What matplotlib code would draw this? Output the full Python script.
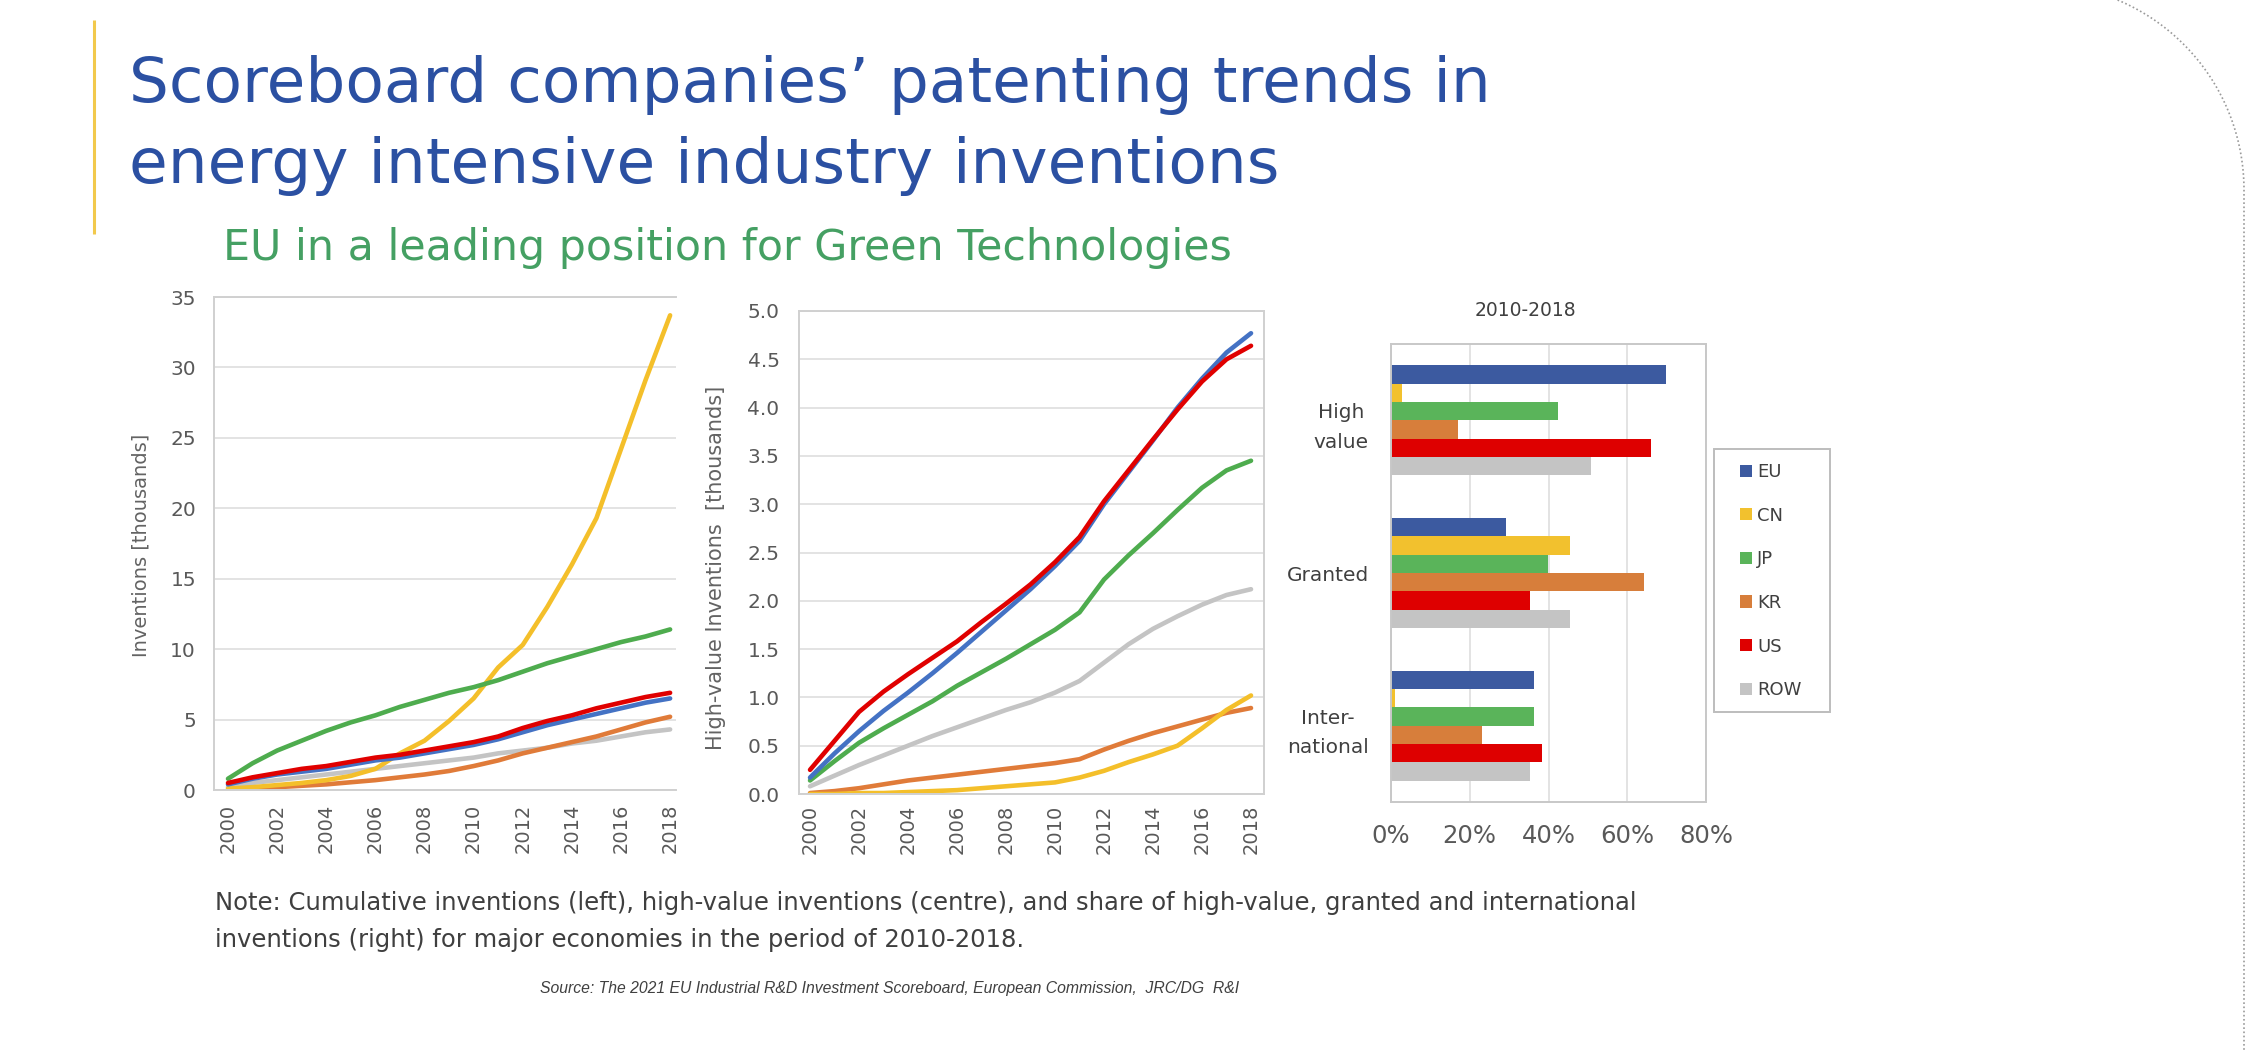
import matplotlib
matplotlib.use("Agg")
import matplotlib.pyplot as plt
import numpy as np
from matplotlib.patches import Patch, Rectangle
from matplotlib.ticker import FuncFormatter

# ---------------- data ----------------
years = list(range(2000, 2019))
series = ["EU", "CN", "JP", "KR", "US", "ROW"]

# Cumulative inventions (thousands) - left panel
cum_EU = [0.4, 0.8, 1.1, 1.3, 1.5, 1.8, 2.1, 2.3, 2.6, 2.9, 3.2, 3.6, 4.1, 4.6, 5.0, 5.4, 5.8, 6.2, 6.5]
cum_CN = [0.1, 0.2, 0.35, 0.5, 0.7, 1.0, 1.5, 2.6, 3.5, 4.9, 6.5, 8.7, 10.3, 13.0, 16.0, 19.3, 24.2, 29.1, 33.7]
cum_JP = [0.8, 1.9, 2.8, 3.5, 4.2, 4.8, 5.3, 5.9, 6.4, 6.9, 7.3, 7.8, 8.4, 9.0, 9.5, 10.0, 10.5, 10.9, 11.4]
cum_KR = [0.0, 0.1, 0.2, 0.3, 0.4, 0.55, 0.7, 0.9, 1.1, 1.35, 1.7, 2.1, 2.6, 3.0, 3.4, 3.8, 4.3, 4.8, 5.2]
cum_US = [0.5, 0.9, 1.2, 1.5, 1.7, 2.0, 2.3, 2.5, 2.8, 3.1, 3.4, 3.8, 4.4, 4.9, 5.3, 5.8, 6.2, 6.6, 6.9]
cum_ROW = [0.2, 0.5, 0.7, 0.9, 1.1, 1.3, 1.5, 1.7, 1.9, 2.1, 2.3, 2.6, 2.8, 3.0, 3.3, 3.5, 3.8, 4.1, 4.3]

# High-value inventions (thousands) - centre panel
hv_EU = [0.17, 0.42, 0.65, 0.86, 1.05, 1.25, 1.46, 1.68, 1.90, 2.12, 2.36, 2.62, 3.00, 3.33, 3.66, 4.00, 4.30, 4.57, 4.77]
hv_CN = [0.0, 0.0, 0.01, 0.01, 0.02, 0.03, 0.04, 0.06, 0.08, 0.10, 0.12, 0.17, 0.24, 0.33, 0.41, 0.50, 0.68, 0.87, 1.02]
hv_JP = [0.14, 0.34, 0.53, 0.68, 0.82, 0.96, 1.12, 1.26, 1.40, 1.55, 1.70, 1.88, 2.22, 2.47, 2.70, 2.94, 3.17, 3.35, 3.45]
hv_KR = [0.01, 0.03, 0.06, 0.10, 0.14, 0.17, 0.20, 0.23, 0.26, 0.29, 0.32, 0.36, 0.46, 0.55, 0.63, 0.70, 0.77, 0.84, 0.89]
hv_US = [0.25, 0.55, 0.85, 1.06, 1.24, 1.41, 1.58, 1.78, 1.97, 2.17, 2.40, 2.66, 3.03, 3.35, 3.67, 3.98, 4.27, 4.50, 4.64]
hv_ROW = [0.08, 0.19, 0.30, 0.40, 0.50, 0.60, 0.69, 0.78, 0.87, 0.95, 1.05, 1.17, 1.36, 1.55, 1.71, 1.84, 1.96, 2.06, 2.12]

# Shares 2010-2018 (%) - right panel
share_categories = ["High\nvalue", "Granted", "Inter-\nnational"]
share_EU = [69.9, 29.2, 36.3]
share_CN = [2.9, 45.4, 1.0]
share_JP = [42.5, 39.8, 36.3]
share_KR = [17.0, 64.3, 23.0]
share_US = [66.0, 35.3, 38.3]
share_ROW = [50.8, 45.4, 35.3]

year_ticks = list(range(2000, 2019, 2))
left_yticks = [0, 5, 10, 15, 20, 25, 30, 35]
mid_yticks = [0.0, 0.5, 1.0, 1.5, 2.0, 2.5, 3.0, 3.5, 4.0, 4.5, 5.0]
share_xticks = [0, 20, 40, 60, 80]

cum = dict(EU=cum_EU, CN=cum_CN, JP=cum_JP, KR=cum_KR, US=cum_US, ROW=cum_ROW)
hv = dict(EU=hv_EU, CN=hv_CN, JP=hv_JP, KR=hv_KR, US=hv_US, ROW=hv_ROW)
share = dict(EU=share_EU, CN=share_CN, JP=share_JP, KR=share_KR, US=share_US, ROW=share_ROW)

# ---------------- styles ----------------
line_colors = {"EU": "#4472c4", "CN": "#f4bf2a", "JP": "#4eac4e",
               "KR": "#e07b39", "US": "#e00000", "ROW": "#c4c4c4"}
bar_colors = {"EU": "#3c5aa0", "CN": "#f2c12e", "JP": "#5ab45a",
              "KR": "#d77e3b", "US": "#de0000", "ROW": "#c4c4c4"}
draw_order = ["ROW", "KR", "CN", "JP", "EU", "US"]

W, H = 2246, 1050
CHART_FONT = "DejaVu Sans"
SLIDE_FONT = "DejaVu Sans"
TICK_COLOR = "#595959"
SPINE = "#d0d0d0"
GRID = "#e3e3e3"

fig = plt.figure(figsize=(W / 100, H / 100), dpi=100)
fig.patch.set_facecolor("white")


def px_axes(x0, y0, x1, y1):
    return fig.add_axes([x0 / W, 1 - y1 / H, (x1 - x0) / W, (y1 - y0) / H])


def ftext(x, y, s, **kw):
    return fig.text(x / W, 1 - y / H, s, **kw)


# ---------------- slide decoration ----------------
over = fig.add_axes([0, 0, 1, 1], zorder=-5)
over.set_xlim(0, W)
over.set_ylim(H, 0)
over.axis("off")
# yellow accent bar
over.plot([94, 94], [20, 234], color="#f2c94c", lw=2.2, solid_capstyle="butt")
# dotted rounded frame on the right
cx, cy, r = 2038, 190, 206
th = np.linspace(np.arcsin((0 - cy) / r), 0, 80)
fx = list(cx + r * np.cos(th)) + [cx + r, cx + r]
fy = list(cy + r * np.sin(th)) + [cy, H]
over.plot(fx, fy, color="#9a9a9a", lw=1.2, ls=(0, (1, 1.5)))

# ---------------- titles ----------------
title_color = "#2b50a2"
ftext(129, 102, "Scoreboard companies\u2019 patenting trends in", fontsize=45.3,
      color=title_color, family=SLIDE_FONT, va="baseline", ha="left")
ftext(129, 183, "energy intensive industry inventions", fontsize=45.3,
      color=title_color, family=SLIDE_FONT, va="baseline", ha="left")
ftext(223, 260, "EU in a leading position for Green Technologies", fontsize=30.8,
      color="#45a063", family=SLIDE_FONT, va="baseline", ha="left")


def style_line_axes(ax, pad_y, pad_x, ysize, xsize):
    ax.set_axisbelow(True)
    ax.yaxis.grid(True, color=GRID, lw=1.4)
    ax.xaxis.grid(False)
    ax.tick_params(axis="both", length=0, colors=TICK_COLOR)
    ax.tick_params(axis="y", pad=pad_y, labelsize=ysize)
    ax.tick_params(axis="x", pad=pad_x, labelsize=xsize, labelrotation=90)
    ax.set_xticks(year_ticks)
    ax.set_xticklabels([str(y) for y in year_ticks], family=CHART_FONT, color=TICK_COLOR)


# ---------------- left panel ----------------
ax1 = px_axes(214, 297, 676, 790)
for s in draw_order:
    ax1.plot(years, cum[s], color=line_colors[s], lw=3.3, solid_capstyle="round")
ax1.set_xlim(1999.43, 2018.24)
ax1.set_ylim(0, 35)
ax1.set_yticks(left_yticks)
ax1.set_yticklabels([str(v) for v in left_yticks], family=CHART_FONT, color=TICK_COLOR)
style_line_axes(ax1, 13, 10, 14.5, 14)
for side in ["left", "bottom", "top"]:
    ax1.spines[side].set_color(SPINE)
    ax1.spines[side].set_linewidth(1.4)
ax1.spines["right"].set_visible(False)
ax1.set_ylabel("Inventions [thousands]", family=CHART_FONT, fontsize=14, color="#636363")
ax1.yaxis.set_label_coords(-0.1385, 0.497)

# ---------------- centre panel ----------------
ax2 = px_axes(799, 311, 1264, 794)
for s in draw_order:
    ax2.plot(years, hv[s], color=line_colors[s], lw=3.3, solid_capstyle="round")
ax2.set_xlim(1999.55, 2018.53)
ax2.set_ylim(0, 5)
ax2.set_yticks(mid_yticks)
ax2.set_yticklabels([f"{v:.1f}" for v in mid_yticks], family=CHART_FONT, color=TICK_COLOR)
style_line_axes(ax2, 14, 8, 14.5, 14)
for side in ["left", "bottom", "top", "right"]:
    ax2.spines[side].set_color(SPINE)
    ax2.spines[side].set_linewidth(1.4)
ax2.set_ylabel("High-value Inventions  [thousands]", family=CHART_FONT, fontsize=15,
               color="#636363")
ax2.yaxis.set_label_coords(-0.157, 0.468)

# ---------------- right panel ----------------
ax3 = px_axes(1391, 344, 1706, 802)
cat_pos = np.arange(len(share_categories))[::-1].astype(float)  # top to bottom
bar_h = 0.12
for i, s in enumerate(series):
    offs = (2.5 - i) * bar_h
    ax3.barh(cat_pos + offs, share[s], height=bar_h, color=bar_colors[s],
             edgecolor="none", label=s)
ax3.set_xlim(0, 80)
ax3.set_ylim(-0.5, 2.5)
ax3.set_xticks(share_xticks)
ax3.xaxis.set_major_formatter(FuncFormatter(lambda v, p: f"{v:.0f}%"))
ax3.set_yticks(cat_pos)
ax3.set_yticklabels(share_categories, family=CHART_FONT, color="#404040",
                    fontsize=14.5, multialignment="center", linespacing=1.72)
ax3.set_axisbelow(True)
ax3.xaxis.grid(True, color=GRID, lw=1.4)
ax3.tick_params(axis="both", length=0)
ax3.tick_params(axis="x", pad=16, labelsize=17.5, colors=TICK_COLOR)
ax3.tick_params(axis="y", pad=16)
for lab in ax3.get_xticklabels():
    lab.set_family(CHART_FONT)
for side in ["left", "bottom", "top", "right"]:
    ax3.spines[side].set_color("#c8c8c8")
    ax3.spines[side].set_linewidth(1.4)
ftext(1525, 310, "2010-2018", family=CHART_FONT, fontsize=13.5, color="#404040",
      ha="center", va="center")

# legend
over.add_patch(Rectangle((1714, 449), 116, 263, fill=False, edgecolor="#bdbdbd", lw=1.4))
handles = [Patch(facecolor=bar_colors[s], edgecolor="none") for s in series]
leg = fig.legend(handles, series, loc="upper left",
                 bbox_to_anchor=(1740 / W, 1 - 463 / H), frameon=False,
                 prop={"family": CHART_FONT, "size": 13}, labelcolor="#404040",
                 handlelength=0.66, handleheight=0.66, handletextpad=0.28,
                 labelspacing=1.42, borderpad=0, borderaxespad=0)

# ---------------- notes ----------------
note_kw = dict(family=SLIDE_FONT, fontsize=17.5, color="#3f3f3f", ha="left", va="center")
ftext(215, 903, "Note: Cumulative inventions (left), high-value inventions (centre), and share of "
      "high-value, granted and international", **note_kw)
ftext(215, 940, "inventions (right) for major economies in the period of 2010-2018.", **note_kw)
ftext(540, 988, "Source: The 2021 EU Industrial R&D Investment Scoreboard, European Commission,  "
      "JRC/DG  R&I", family="Liberation Sans", fontsize=11.3, style="italic", color="#404040",
      ha="left", va="center")

fig.savefig("out.png", dpi=100, facecolor="white")
